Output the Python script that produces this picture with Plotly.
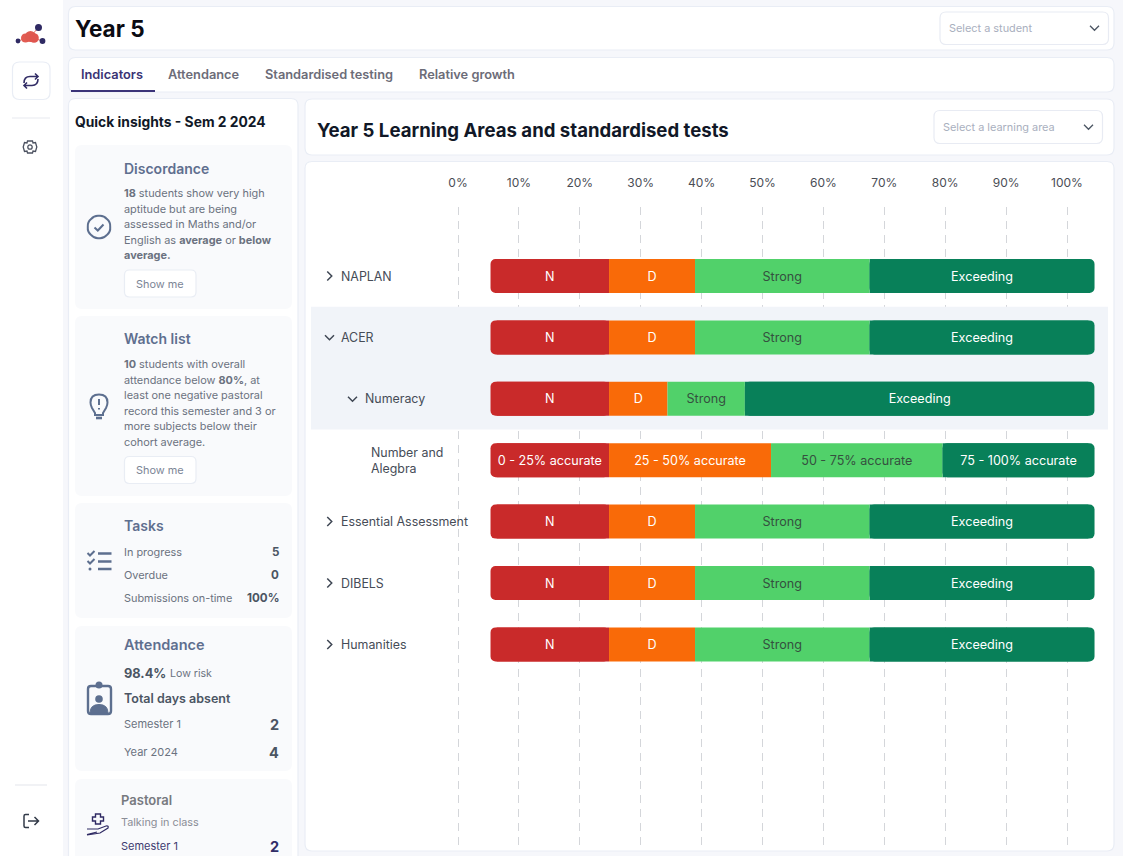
import numpy as np
import plotly.graph_objects as go

# ---------- data ----------
categories = ["NAPLAN", "ACER", "Numeracy", "Number and Alegbra", "Essential Assessment", "DIBELS", "Humanities"]
chart_start = [5.34, 5.34, 5.34, 5.34, 5.34, 5.34, 5.34]
n_values = [19.46, 19.46, 19.46, 19.46, 19.46, 19.46, 19.46]
d_values = [14.12, 14.12, 9.6, 26.6, 14.12, 14.12, 14.12]
strong_values = [28.65, 28.65, 12.7, 28.16, 28.65, 28.65, 28.65]
exceeding_values = [36.95, 36.95, 57.4, 24.96, 36.95, 36.95, 36.95]
n_text = ["N", "N", "N", "0 - 25% accurate", "N", "N", "N"]
d_text = ["D", "D", "D", "25 - 50% accurate", "D", "D", "D"]
strong_text = ["Strong", "Strong", "Strong", "50 - 75% accurate", "Strong", "Strong", "Strong"]
exceeding_text = ["Exceeding", "Exceeding", "Exceeding", "75 - 100% accurate", "Exceeding", "Exceeding", "Exceeding"]
tick_values = [0, 10, 20, 30, 40, 50, 60, 70, 80, 90, 100]
tick_labels = ["0%", "10%", "20%", "30%", "40%", "50%", "60%", "70%", "80%", "90%", "100%"]

W, H = 1123, 856
FONT = "Inter"
PX_PER_PCT = 6.09
ZERO_X = 458.0
ROW0_Y = 276.0
ROW_H = 61.4
PLOT_L, PLOT_R, PLOT_T, PLOT_B = 305.0, 1114.0, 207.0, 850.0
CORNER_PX = 5
CORNER_PCT = 1.0

shapes, annos = [], []


def rrect_path(x0, y0, x1, y1, r):
    return (f"M{x0+r},{y0} L{x1-r},{y0} Q{x1},{y0} {x1},{y0+r} L{x1},{y1-r} Q{x1},{y1} {x1-r},{y1} "
            f"L{x0+r},{y1} Q{x0},{y1} {x0},{y1-r} L{x0},{y0+r} Q{x0},{y0} {x0+r},{y0} Z")


def scallop_path(cx, cy, r, lobes=8, bulge=1.13):
    pts = []
    for k in range(lobes):
        a0 = 2 * np.pi * k / lobes
        a1 = 2 * np.pi * (k + 0.5) / lobes
        a2 = 2 * np.pi * (k + 1) / lobes
        p0 = (cx + r * np.cos(a0), cy + r * np.sin(a0))
        c = (cx + r * bulge * np.cos(a1), cy + r * bulge * np.sin(a1))
        p2 = (cx + r * np.cos(a2), cy + r * np.sin(a2))
        if k == 0:
            pts.append(f"M{p0[0]:.2f},{p0[1]:.2f}")
        pts.append(f"Q{c[0]:.2f},{c[1]:.2f} {p2[0]:.2f},{p2[1]:.2f}")
    return " ".join(pts) + " Z"


def card(x0, y0, x1, y1, r=7, fill="#ffffff", line="#e9edf5", lw=1.2):
    shapes.append(dict(type="path", xref="x", yref="y", layer="below", path=rrect_path(x0, y0, x1, y1, r),
                       fillcolor=fill, line=dict(color=line, width=lw)))


def icon(path, color="#5d6f8f", lw=2, fill="rgba(0,0,0,0)"):
    shapes.append(dict(type="path", xref="x", yref="y", layer="above", path=path, fillcolor=fill,
                       line=dict(color=color, width=lw)))


def circle(cx, cy, r, fill, line=None, lw=0):
    shapes.append(dict(type="circle", xref="x", yref="y", layer="above", x0=cx-r, x1=cx+r, y0=cy-r, y1=cy+r,
                       fillcolor=fill, line=dict(color=line or fill, width=lw)))


def text(x, y, s, size=12, color="#6b7280", weight=400, anchor="left", align="left"):
    annos.append(dict(xref="x", yref="y", x=x, y=y, text=s, showarrow=False, xanchor=anchor, yanchor="middle",
                      align=align, borderpad=0, borderwidth=0,
                      font=dict(family=FONT, size=size, color=color, weight=weight)))


def chev_down(cx, cy, s=4.5, color="#3f4754", lw=1.5):
    icon(f"M{cx-s},{cy-s/2} L{cx},{cy+s/2} L{cx+s},{cy-s/2}", color, lw)


def chev_right(cx, cy, s=4.5, color="#3f4754", lw=1.5):
    icon(f"M{cx-s/2},{cy-s} L{cx+s/2},{cy} L{cx-s/2},{cy+s}", color, lw)


# ---------- page chrome ----------
shapes.append(dict(type="rect", xref="x", yref="y", layer="below", x0=0, x1=63, y0=0, y1=H,
                   fillcolor="#ffffff", line=dict(width=0)))
card(68.5, 6.5, 1114, 50)
card(68.5, 57.5, 1114, 92)
card(68.5, 98.5, 298, 870)
card(305, 99, 1114, 155)
card(305, 161.5, 1114, 851)

for y0, y1 in [(145, 309), (316, 496), (503, 618), (626, 771), (779, 880)]:
    card(75, y0, 292, y1, r=7, fill="#f9fafc", line="#f9fafc", lw=0)

# selects
card(940, 12, 1108.5, 44.5, r=6, line="#e8ebf3")
text(949, 28, "Select a student", 10.9, "#a9afbe")
chev_down(1094.5, 28, 4.5, "#4b5563", 1.3)
card(934, 110.5, 1102.5, 143.5, r=6, line="#e8ebf3")
text(942.5, 127, "Select a learning area", 10.9, "#a9afbe")
chev_down(1088.5, 127, 4.5, "#4b5563", 1.3)

# heading and tabs
text(75, 28, "Year 5", 22.5, "#0b0b12", 700)
text(81, 74, "Indicators", 12.8, "#3a3374", 600)
text(168, 74, "Attendance", 12.8, "#6c6c78", 600)
text(265, 74, "Standardised testing", 12.8, "#6c6c78", 600)
text(419, 74, "Relative growth", 12.8, "#6c6c78", 600)
shapes.append(dict(type="line", xref="x", yref="y", layer="above", x0=71, x1=155, y0=91, y1=91,
                   line=dict(color="#3b3479", width=2)))
text(317, 129.5, "Year 5 Learning Areas and standardised tests", 18.6, "#111827", 700)

# left panel
text(75, 122, "Quick insights - Sem 2 2024", 13.85, "#111827", 700)
text(124, 168, "Discordance", 14, "#5f6f8f", 600)
for y, s in zip([193, 208.5, 224, 239.5, 255],
                ["<b>18</b> students show very high", "aptitude but are being", "assessed in Maths and/or",
                 "English as <b>average</b> or <b>below</b>", "<b>average.</b>"]):
    text(124, y, s, 10.9, "#6b7280")
card(124.5, 270, 196, 297, r=5, line="#e9edf4")
text(160, 283.5, "Show me", 10.9, "#7c8596", anchor="center")

text(124, 338.5, "Watch list", 14, "#5f6f8f", 600)
for y, s in zip([364, 379.5, 395, 410.5, 426, 441.5],
                ["<b>10</b> students with overall", "attendance below <b>80%</b>, at", "least one negative pastoral",
                 "record this semester and 3 or", "more subjects below their", "cohort average."]):
    text(124, y, s, 10.9, "#6b7280")
card(124.5, 456.5, 196, 483.5, r=5, line="#e9edf4")
text(160, 470, "Show me", 10.9, "#7c8596", anchor="center")

text(124, 525, "Tasks", 14, "#5f6f8f", 600)
for y, a, b in [(551.5, "In progress", "5"), (575, "Overdue", "0"), (598, "Submissions on-time", "100%")]:
    text(124, y, a, 10.9, "#6b7280")
    text(279, y, b, 11.6, "#4b5563", 700, anchor="right")

text(124, 644.5, "Attendance", 14.5, "#5f6f8f", 600)
text(124, 673, "98.4%", 12.8, "#4b5563", 700)
text(170, 673.5, "Low risk", 10.6, "#6b7280")
text(124, 698.5, "Total days absent", 12.5, "#4b5563", 600)
text(124, 724, "Semester 1", 11, "#6b7280")
text(279, 724, "2", 14.5, "#4b5563", 700, anchor="right")
text(124, 752, "Year 2024", 11, "#6b7280")
text(279, 752, "4", 14.5, "#4b5563", 700, anchor="right")

text(121, 799.5, "Pastoral", 13, "#77797f", 600)
text(121, 822.5, "Talking in class", 10.8, "#8a8d96")
text(121, 846, "Semester 1", 11, "#3d3a70")
text(279, 846, "2", 14.5, "#312e68", 700, anchor="right")

# sidebar
shapes.append(dict(type="line", xref="x", yref="y", layer="above", x0=12, x1=50, y0=118, y1=118,
                   line=dict(color="#e7e9ef", width=1.2)))
shapes.append(dict(type="line", xref="x", yref="y", layer="above", x0=15, x1=47, y0=785, y1=785,
                   line=dict(color="#e7e9ef", width=1.2)))
card(12.5, 62, 50, 99.5, r=7, line="#e9edf5")

# logo
icon("M18,41 L30,37 L38.5,27.5 M30,37 L42.5,41", "#e86a5e", 1)
circle(38.5, 27.5, 3.5, "#2f2a63")
circle(18, 41, 2.4, "#2f2a63")
circle(42.5, 41, 2.9, "#2f2a63")
circle(25.5, 38, 4.5, "#e25c52")
circle(30.5, 36.5, 5.5, "#df5a50")
circle(34, 38, 4.8, "#e0564f")

# sync icon
icon("M24,83 Q24,76.5 30,76.5 L38,76.5 M35,73.5 L38,76.5 L35,79.5", "#322d66", 1.6)
icon("M38,79 Q38,85.5 32,85.5 L24,85.5 M27,82.5 L24,85.5 L27,88.5", "#322d66", 1.6)
# gear
circle(30, 147, 2.2, "rgba(0,0,0,0)", "#4c5261", 1.3)
icon("M27.5,141 L32.5,141 L33,143 L35.5,142.5 L36.8,147 L35.5,151.5 L33,151 L32.5,153 L27.5,153 L27,151 "
     "L24.5,151.5 L23.2,147 L24.5,142.5 L27,143 Z", "#4c5261", 1.3)
# logout
icon("M29,814.5 L25.5,814.5 Q24,814.5 24,816 L24,826 Q24,827.5 25.5,827.5 L29,827.5", "#323a48", 1.5)
icon("M28,821 L38.5,821 M34.5,817 L38.5,821 L34.5,825", "#323a48", 1.5)

# badge
icon(scallop_path(99, 227, 11.2), "#5d6f8f", 2)
icon("M94.5,227.5 L97.8,230.5 L103.5,224.5", "#5d6f8f", 2)
# bulb
icon("M95,413 L92,408 Q90.5,405 90.5,402.5 Q90.5,394.5 99,394.5 Q107.5,394.5 107.5,402.5 Q107.5,405 106,408 L103,413 "
     "L103,415 L95,415 Z", "#5d6f8f", 2)
icon("M99,399 L99,405 M99,408 L99,409.5", "#5d6f8f", 2)
icon("M96,418 L102,418", "#5d6f8f", 2.6)
# tasks
icon("M87.5,553 L90,555.5 L94.5,551 M87.5,561 L90,563.5 L94.5,559", "#5d6f8f", 2)
icon("M98,553.5 L111.5,553.5 M98,561.5 L111.5,561.5 M98,569 L111.5,569", "#5d6f8f", 2.4)
circle(90, 569, 1.5, "#5d6f8f")
# clipboard
icon(rrect_path(88, 686, 111, 714, 3), "#5d6f8f", 2.4)
circle(99, 685, 3.5, "#5d6f8f")
circle(99, 699, 3.8, "#5d6f8f")
icon("M90,713 Q90,704.5 99,704.5 Q108,704.5 108,713 Z", "#5d6f8f", 1, "#5d6f8f")
# hand with plus
icon("M95.5,814 L100.5,814 L100.5,817 L103.5,817 L103.5,821 L100.5,821 L100.5,824 L95.5,824 L95.5,821 L92.5,821 "
     "L92.5,817 L95.5,817 Z", "#2f2a63", 1.4)
icon("M87,829 L98,829 L106,826 Q109,825.5 108,828 L100,833 L87,835 M87,834.5 L97,832", "#2f2a63", 1.2)

# row chevrons and row labels
chev_right(329.5, 276)
chev_down(329.5, 337.5)
chev_down(352.5, 399)
chev_right(329.5, 521.5)
chev_right(329.5, 583)
chev_right(329.5, 644.5)

label_x = [341, 341, 365, 371, 341, 341, 341]
label_text = ["NAPLAN", "ACER", "Numeracy", "Number and<br>Alegbra", "Essential Assessment", "DIBELS", "Humanities"]
for cat, lx, lt in zip(categories, label_x, label_text):
    annos.append(dict(xref="x", yref="y2", x=lx, y=cat, text=lt, showarrow=False, xanchor="left", yanchor="middle",
                      align="left", borderpad=0, borderwidth=0,
                      font=dict(family=FONT, size=12.4, color="#464c57")))

# shaded rows sit between the grid and the bars
shapes.append(dict(type="rect", xref="x2", yref="y2", layer="between",
                   x0=(311 - ZERO_X) / PX_PER_PCT, x1=(1108 - ZERO_X) / PX_PER_PCT, y0=0.5, y1=2.5,
                   fillcolor="#f1f4f9", line=dict(width=0)))

# ---------- bars ----------
start = np.array(chart_start)
n_arr, d_arr, s_arr, e_arr = map(np.array, (n_values, d_values, strong_values, exceeding_values))
d_base = start + n_arr
s_base = d_base + d_arr
e_base = s_base + s_arr

C_N, C_D, C_S, C_E = "#c92a2a", "#f96a08", "#51d16a", "#088059"


def add_band(name, base, vals, color, txt=None, tcol="#ffffff", radius=0):
    fig.add_trace(go.Bar(
        name=name, y=categories, x=vals, base=base, orientation="h", text=txt,
        textposition="inside" if txt else "none", insidetextanchor="middle", textangle=0, constraintext="none",
        insidetextfont=dict(family=FONT, size=12.6, color=tcol),
        marker=dict(color=color, line=dict(width=0), cornerradius=radius),
        hoverinfo="skip", xaxis="x2", yaxis="y2", cliponaxis=False,
    ))


fig = go.Figure()
# square under-layers fill the inner corners left by the rounded end segments
add_band("N inner", start + CORNER_PCT, n_arr - CORNER_PCT, C_N)
add_band("Exceeding inner", e_base, e_arr - CORNER_PCT, C_E)
add_band("N", start, n_arr, C_N, n_text, "#ffffff", CORNER_PX)
add_band("D", d_base, d_arr, C_D, d_text, "#ffffff")
add_band("Strong", s_base, s_arr, C_S, strong_text, "#35503f")
add_band("Exceeding", e_base, e_arr, C_E, exceeding_text, "#ffffff", CORNER_PX)

# invisible carrier so the pixel-scaled page axes exist
fig.add_trace(go.Scatter(x=[0], y=[0], mode="markers", marker=dict(opacity=0), hoverinfo="skip", xaxis="x", yaxis="y"))

hidden = dict(visible=False, showgrid=False, zeroline=False, fixedrange=True)
fig.update_layout(
    width=W, height=H, autosize=False, margin=dict(l=0, r=0, t=0, b=0, pad=0), showlegend=False,
    paper_bgcolor="#f6f7fb", plot_bgcolor="rgba(0,0,0,0)",
    barmode="overlay", bargap=0.446,
    xaxis=dict(domain=[0, 1], range=[0, W], **hidden),
    yaxis=dict(domain=[0, 1], range=[H, 0], **hidden),
    xaxis2=dict(domain=[PLOT_L / W, PLOT_R / W], anchor="y2", side="top",
                range=[(PLOT_L - ZERO_X) / PX_PER_PCT, (PLOT_R - ZERO_X) / PX_PER_PCT],
                tickmode="array", tickvals=tick_values, ticktext=tick_labels, ticks="",
                ticklabelstandoff=17, tickfont=dict(family=FONT, size=12, color="#4a4d55"),
                showline=False, zeroline=False, showgrid=True, gridcolor="#d4d6da", gridwidth=1,
                griddash="8px,6px", fixedrange=True),
    yaxis2=dict(domain=[1 - PLOT_B / H, 1 - PLOT_T / H], anchor="x2", type="category",
                categoryorder="array", categoryarray=categories,
                range=[(PLOT_B - ROW0_Y) / ROW_H, (PLOT_T - ROW0_Y) / ROW_H],
                showticklabels=False, ticks="", showline=False, showgrid=False, zeroline=False, fixedrange=True),
    shapes=shapes, annotations=annos,
)

fig.write_html("out.html", config=dict(displayModeBar=False),
               post_script="document.body.style.margin='0';document.body.style.overflow='hidden';")
